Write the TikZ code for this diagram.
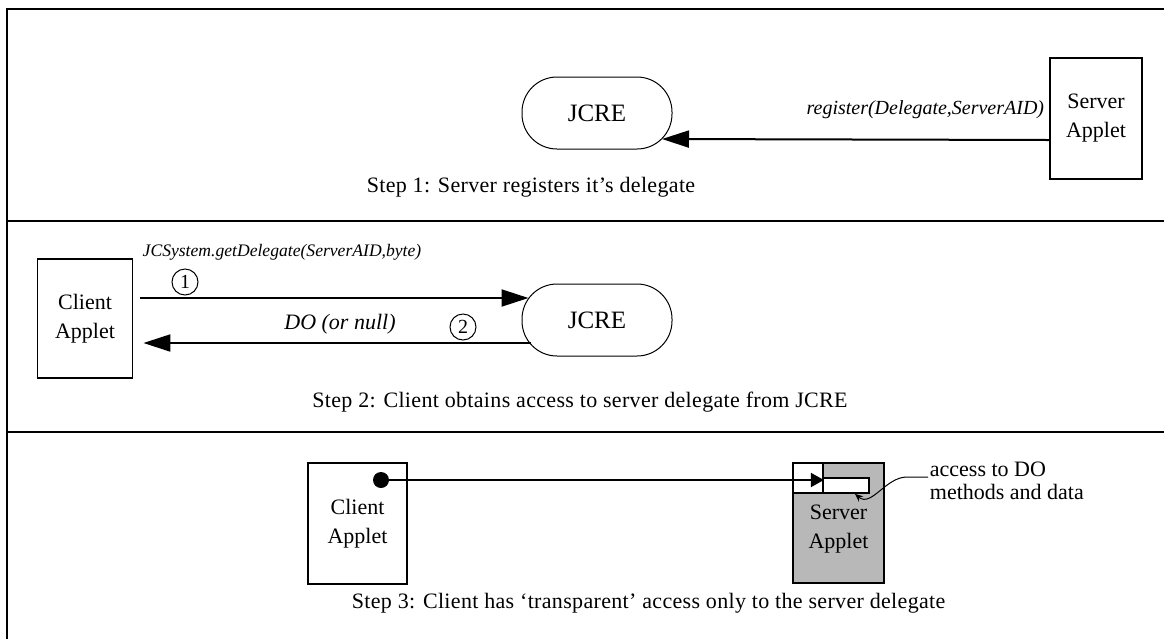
\documentclass[tikz,border=0pt]{standalone}
\usepackage{fontspec}
\setmainfont{Liberation Serif}
\newfontfamily\capfont[Ligatures=TeX,LetterSpace=1.5]{Liberation Serif}
\usetikzlibrary{arrows.meta}
\definecolor{shade}{RGB}{184,184,184}

\begin{document}
\begin{tikzpicture}[x=0.5pt,y=0.5pt,yscale=-1,xscale=1,
  frame/.style={line width=1pt},
  applet/.style={draw,line width=0.9pt,minimum width=46pt,minimum height=60pt,align=center,inner sep=0.75pt,font=\fontsize{11}{14.5}\selectfont},
  jcre/.style={draw,line width=0.5pt,rounded corners=17.5pt,minimum width=75pt,minimum height=36pt,inner sep=0.75pt,font=\fontsize{12.5}{14}\selectfont},
  call/.style={inner sep=0.75pt,font=\fontsize{10}{12}\selectfont\itshape},
  caption/.style={inner sep=0.75pt,font=\capfont\fontsize{11}{13}\selectfont},
  num/.style={draw,circle,line width=0.5pt,minimum size=13pt,inner sep=0pt,font=\fontsize{10}{12}\selectfont},
  slot/.style={draw,fill=white,line width=0.9pt,inner sep=0pt},
  bigarr/.style={line width=1pt,-{Triangle[length=13.5pt,width=8.5pt]}},
  smallarr/.style={line width=0.9pt,-{Triangle[length=6.5pt,width=7pt]}},
]
\useasboundingbox (0,0) rectangle (1164,639);

%Straight Lines (frame and separators)
\draw [frame] (1164,9) -- (7,9) -- (7,639) ;
\draw [frame] (7,221) -- (1164,221) ;
\draw [frame] (7,432) -- (1164,432) ;

%%% Step 1
%Shape: Rounded Rect
\node [jcre] (jcreA) at (597,113) {JCRE};
%Shape: Rectangle
\node [applet,minimum height=60.5pt] (serverA) at (1096,118.5) {Server\\Applet};
%Straight Lines
\draw [bigarr] ([yshift=10.75pt]serverA.west) -- ([xshift=-5.25pt,yshift=13pt]jcreA.east) ;
% Text Node
\node [call,anchor=east] (regLbl) at (1046,110) {register(Delegate,ServerAID)};
% Text Node
\node [caption] (capA) at (531,187) {Step 1: Server registers it’s delegate};

%%% Step 2
%Shape: Rectangle
\node [applet,minimum width=47.5pt,minimum height=59.5pt] (clientB) at (85,318.5) {Client\\Applet};
%Shape: Rounded Rect
\node [jcre] (jcreB) at (597,320) {JCRE};
%Straight Lines
\draw [bigarr] ([xshift=3.5pt,yshift=-10.25pt]clientB.east) -- ([xshift=3.5pt,yshift=-11pt]jcreB.west) ;
\draw [bigarr] ([xshift=4.75pt,yshift=11.5pt]jcreB.west) -- ([xshift=5pt,yshift=12.25pt]clientB.east) ;
%Shape: Circle
\node [num] (numA) at (185,282) {1};
\node [num] (numB) at (463,327) {2};
% Text Node
\node [call,font=\fontsize{8.8}{11}\selectfont\itshape] (getLbl) at (282,252) {JCSystem.getDelegate(ServerAID,byte)};
% Text Node
\node [call,font=\fontsize{11}{13}\selectfont\itshape] (doLbl) at (340,324) {DO (or null)};
% Text Node
\node [caption] (capB) at (580,402) {Step 2: Client obtains access to server delegate from JCRE};

%%% Step 3
%Shape: Rectangle
\node [applet,minimum width=49.5pt,minimum height=60.5pt] (clientC) at (357.5,523.5) {Client\\Applet};
\node [applet,fill=shade,minimum width=45.5pt,minimum height=60pt] (serverC) at (838.5,523) {};
% Text Node
\node [align=center,inner sep=0.75pt,font=\fontsize{11}{14.5}\selectfont] (serverTxt) at (838.5,529) {Server\\Applet};
%Shape: Rectangle (delegate parts)
\node [slot,minimum width=15pt,minimum height=15pt] (slotA) at (808,478) {};
\node [slot,minimum width=23pt,minimum height=7.5pt] (slotB) at (846,485.5) {};
%Shape: Circle
\node [circle,fill,inner sep=0pt,minimum size=8pt] (dotC) at (381,480) {};
%Straight Lines
\draw [smallarr] (dotC) -- (slotA.east |- dotC) ;
% Text Node
\node [anchor=west,align=left,inner sep=0.75pt,font=\fontsize{11}{11.5}\selectfont] (accLbl) at (928,481) {access to DO\\methods and data};
%Curve Lines
\draw [line width=0.5pt,-{Stealth[length=4pt,width=3.5pt]}] ([yshift=-2pt]accLbl.west) -- ++(-21,0) to[out=180,in=40] ([xshift=4.5pt]slotB.south) ;
% Text Node
\node [caption,anchor=west] (capC) at (350,603) {Step 3: Client has ‘transparent’ access only to the server delegate};

\end{tikzpicture}
\end{document}
